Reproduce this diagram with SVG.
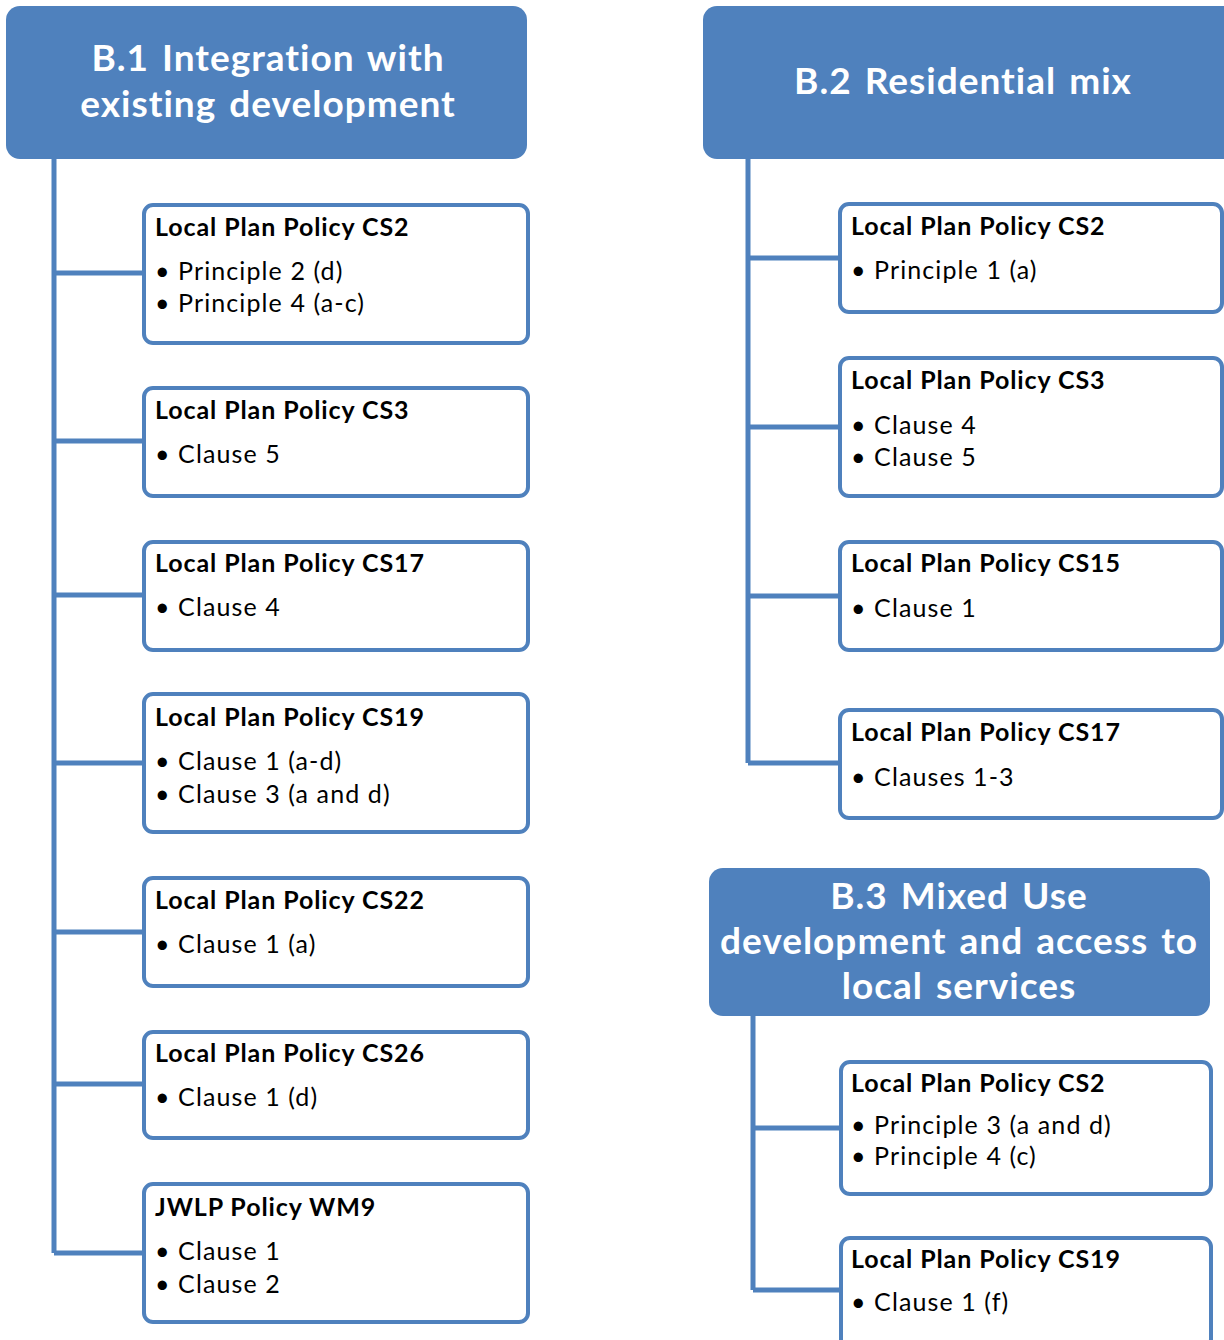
<svg xmlns="http://www.w3.org/2000/svg" width="1224" height="1340" viewBox="0 0 1224 1340">
<style>
.hdr{fill:#4F81BD;}
.hdrt{font-family:Lato,"Open Sans",sans-serif;font-weight:bold;font-size:37px;fill:#FFFFFF;text-anchor:middle;letter-spacing:1px;word-spacing:3px;}
.box{fill:#FFFFFF;stroke:#4F81BD;stroke-width:4;}
.ttl{font-family:Lato,"Open Sans",sans-serif;font-weight:bold;font-size:25px;fill:#000000;letter-spacing:0.9px;}
.itm{font-family:Lato,"Open Sans",sans-serif;font-size:25px;fill:#000000;letter-spacing:1.1px;}
.con{fill:none;stroke:#4F81BD;stroke-width:5;}
</style>
<rect width="1224" height="1340" fill="#FFFFFF"/>
<g id="connectors">
<path class="con" d="M54 145 V1253 M54 273 H144 M54 441 H144 M54 595 H144 M54 763 H144 M54 932 H144 M54 1084 H144 M54 1253 H144"/>
<path class="con" d="M748 145 V763 M748 258 H840 M748 427 H840 M748 596 H840 M748 763 H840"/>
<path class="con" d="M753 1005 V1290 M753 1128 H841 M753 1290 H841"/>
</g>
<g id="b1">
<rect class="hdr" x="6" y="6" width="521" height="153" rx="14"/>
<text class="hdrt" x="268" y="71">B.1 Integration with</text>
<text class="hdrt" x="268" y="117">existing development</text>
</g>
<g id="b2">
<rect class="hdr" x="703" y="6" width="535" height="153" rx="14"/>
<text class="hdrt" x="963" y="94">B.2 Residential mix</text>
</g>
<g id="b3">
<rect class="hdr" x="709" y="868" width="501" height="148" rx="14"/>
<text class="hdrt" x="959" y="909">B.3 Mixed Use</text>
<text class="hdrt" x="959" y="954">development and access to</text>
<text class="hdrt" x="959" y="999">local services</text>
</g>
<g id="l1">
<rect class="box" x="144" y="205" width="384" height="138" rx="9"/>
<text class="ttl" x="155" y="236">Local Plan Policy CS2</text>
<text class="itm" x="155" y="280">• Principle 2 (d)</text>
<text class="itm" x="155" y="312">• Principle 4 (a-c)</text>
</g>
<g id="l2">
<rect class="box" x="144" y="388" width="384" height="108" rx="9"/>
<text class="ttl" x="155" y="419">Local Plan Policy CS3</text>
<text class="itm" x="155" y="463">• Clause 5</text>
</g>
<g id="l3">
<rect class="box" x="144" y="542" width="384" height="108" rx="9"/>
<text class="ttl" x="155" y="572">Local Plan Policy CS17</text>
<text class="itm" x="155" y="616">• Clause 4</text>
</g>
<g id="l4">
<rect class="box" x="144" y="694" width="384" height="138" rx="9"/>
<text class="ttl" x="155" y="726">Local Plan Policy CS19</text>
<text class="itm" x="155" y="770">• Clause 1 (a-d)</text>
<text class="itm" x="155" y="803">• Clause 3 (a and d)</text>
</g>
<g id="l5">
<rect class="box" x="144" y="878" width="384" height="108" rx="9"/>
<text class="ttl" x="155" y="909">Local Plan Policy CS22</text>
<text class="itm" x="155" y="953">• Clause 1 (a)</text>
</g>
<g id="l6">
<rect class="box" x="144" y="1032" width="384" height="106" rx="9"/>
<text class="ttl" x="155" y="1062">Local Plan Policy CS26</text>
<text class="itm" x="155" y="1106">• Clause 1 (d)</text>
</g>
<g id="l7">
<rect class="box" x="144" y="1184" width="384" height="138" rx="9"/>
<text class="ttl" x="155" y="1216">JWLP Policy WM9</text>
<text class="itm" x="155" y="1260">• Clause 1</text>
<text class="itm" x="155" y="1293">• Clause 2</text>
</g>
<g id="r1">
<rect class="box" x="840" y="204" width="382" height="108" rx="9"/>
<text class="ttl" x="851" y="235">Local Plan Policy CS2</text>
<text class="itm" x="851" y="279">• Principle 1 (a)</text>
</g>
<g id="r2">
<rect class="box" x="840" y="358" width="382" height="138" rx="9"/>
<text class="ttl" x="851" y="389">Local Plan Policy CS3</text>
<text class="itm" x="851" y="434">• Clause 4</text>
<text class="itm" x="851" y="466">• Clause 5</text>
</g>
<g id="r3">
<rect class="box" x="840" y="542" width="382" height="108" rx="9"/>
<text class="ttl" x="851" y="572">Local Plan Policy CS15</text>
<text class="itm" x="851" y="617">• Clause 1</text>
</g>
<g id="r4">
<rect class="box" x="840" y="710" width="382" height="108" rx="9"/>
<text class="ttl" x="851" y="741">Local Plan Policy CS17</text>
<text class="itm" x="851" y="786">• Clauses 1-3</text>
</g>
<g id="r5">
<rect class="box" x="841" y="1062" width="370" height="132" rx="9"/>
<text class="ttl" x="851" y="1092">Local Plan Policy CS2</text>
<text class="itm" x="851" y="1134">• Principle 3 (a and d)</text>
<text class="itm" x="851" y="1165">• Principle 4 (c)</text>
</g>
<g id="r6">
<rect class="box" x="841" y="1238" width="370" height="110" rx="9"/>
<text class="ttl" x="851" y="1268">Local Plan Policy CS19</text>
<text class="itm" x="851" y="1311">• Clause 1 (f)</text>
</g>
</svg>
